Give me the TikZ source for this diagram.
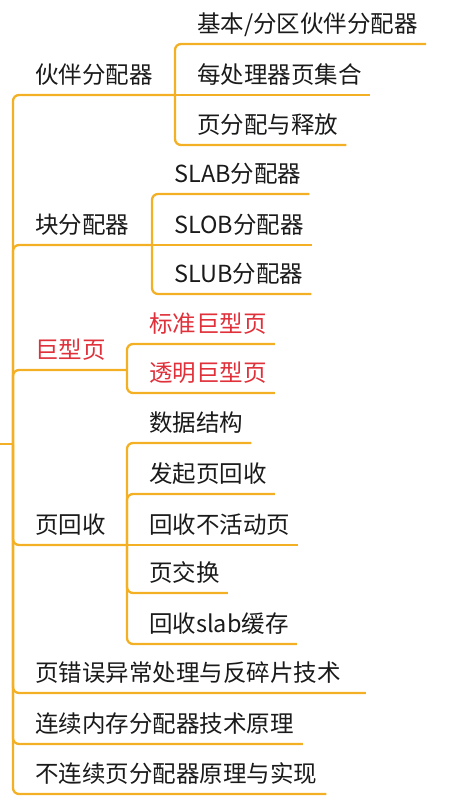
\documentclass[tikz,border=0pt]{standalone}
\usepackage{fontspec}
\setmainfont{Noto Sans CJK SC}
\usetikzlibrary{calc}
\definecolor{mmline}{HTML}{F4B024}
\definecolor{mmtext}{HTML}{1A1A1A}
\definecolor{mmred}{HTML}{E0303A}
\tikzset{
  topic/.style={anchor=base west,inner sep=0pt,font=\fontsize{23.5}{28}\selectfont,text=mmtext},
  hot/.style={topic,text=mmred},
  branch/.style={draw=mmline,line width=2.3pt,rounded corners=6pt},
}

\begin{document}
\begin{tikzpicture}[x=1pt,y=-1pt]
  \useasboundingbox (0,0) rectangle (475,809);
  \coordinate (root) at (0,444);
  \coordinate (spine) at (13,444);
  % first level
  \node[topic] (buddy) at (35,83) {伙伴分配器};
  \node[topic] (slabs) at (35,233) {块分配器};
  \node[hot] (huge) at (35,358) {巨型页};
  \node[topic] (reclaim) at (35,533) {页回收};
  \node[topic] (fault) at (35,681) {页错误异常处理与反碎片技术};
  \node[topic] (cma) at (35,732) {连续内存分配器技术原理};
  \node[topic] (vmalloc) at (35,782) {不连续页分配器原理与实现};
  \coordinate (buddyj) at (175,95);
  \coordinate (slabsj) at (152,245);
  \coordinate (hugej) at (127,370);
  \coordinate (reclaimj) at (127,545);
  % second level
  \node[topic] (basic) at (197,32) {基本/分区伙伴分配器};
  \node[topic] (percpu) at (197,83) {每处理器页集合};
  \node[topic] (pgalloc) at (197,133) {页分配与释放};
  \node[topic] (slab) at (174,182) {SLAB分配器};
  \node[topic] (slob) at (174,233) {SLOB分配器};
  \node[topic] (slub) at (174,282) {SLUB分配器};
  \node[hot] (stdhuge) at (149,332) {标准巨型页};
  \node[hot] (thp) at (149,381) {透明巨型页};
  \node[topic] (data) at (149,431) {数据结构};
  \node[topic] (kswap) at (149,482) {发起页回收};
  \node[topic] (inactive) at (149,533) {回收不活动页};
  \node[topic] (swap) at (149,581) {页交换};
  \node[topic] (slabcache) at (149,632) {回收slab缓存};

  % root and spine
  \draw[branch] (root) -- (spine);
  \draw[branch] (spine) |- (buddyj);
  \draw[branch] (spine) |- (slabsj);
  \draw[branch] (spine) |- (hugej);
  \draw[branch] (spine) |- (reclaimj);
  \draw[branch] (spine) |- ($(fault.base east)+(25,12)$);
  \draw[branch] (spine) |- ($(cma.base east)+(9,12)$);
  \draw[branch] (spine) |- ($(vmalloc.base east)+(9,12)$);
  % buddy
  \draw[branch] (buddyj) |- ($(basic.base east)+(8,12)$);
  \draw[branch] (buddyj) -- ($(percpu.base east)+(8,12)$);
  \draw[branch] (buddyj) |- ($(pgalloc.base east)+(8,12)$);
  % slab family
  \draw[branch] (slabsj) |- ($(slab.base east)+(8,12)$);
  \draw[branch] (slabsj) -- ($(slob.base east)+(8,12)$);
  \draw[branch] (slabsj) |- ($(slub.base east)+(8,12)$);
  % huge pages
  \draw[branch] (hugej) |- ($(stdhuge.base east)+(8,12)$);
  \draw[branch] (hugej) |- ($(thp.base east)+(8,12)$);
  % reclaim
  \draw[branch] (reclaimj) |- ($(data.base east)+(8,12)$);
  \draw[branch] (reclaimj) |- ($(kswap.base east)+(8,12)$);
  \draw[branch] (reclaimj) -- ($(inactive.base east)+(8,12)$);
  \draw[branch] (reclaimj) |- ($(swap.base east)+(8,12)$);
  \draw[branch] (reclaimj) |- ($(slabcache.base east)+(8,12)$);
\end{tikzpicture}
\end{document}
